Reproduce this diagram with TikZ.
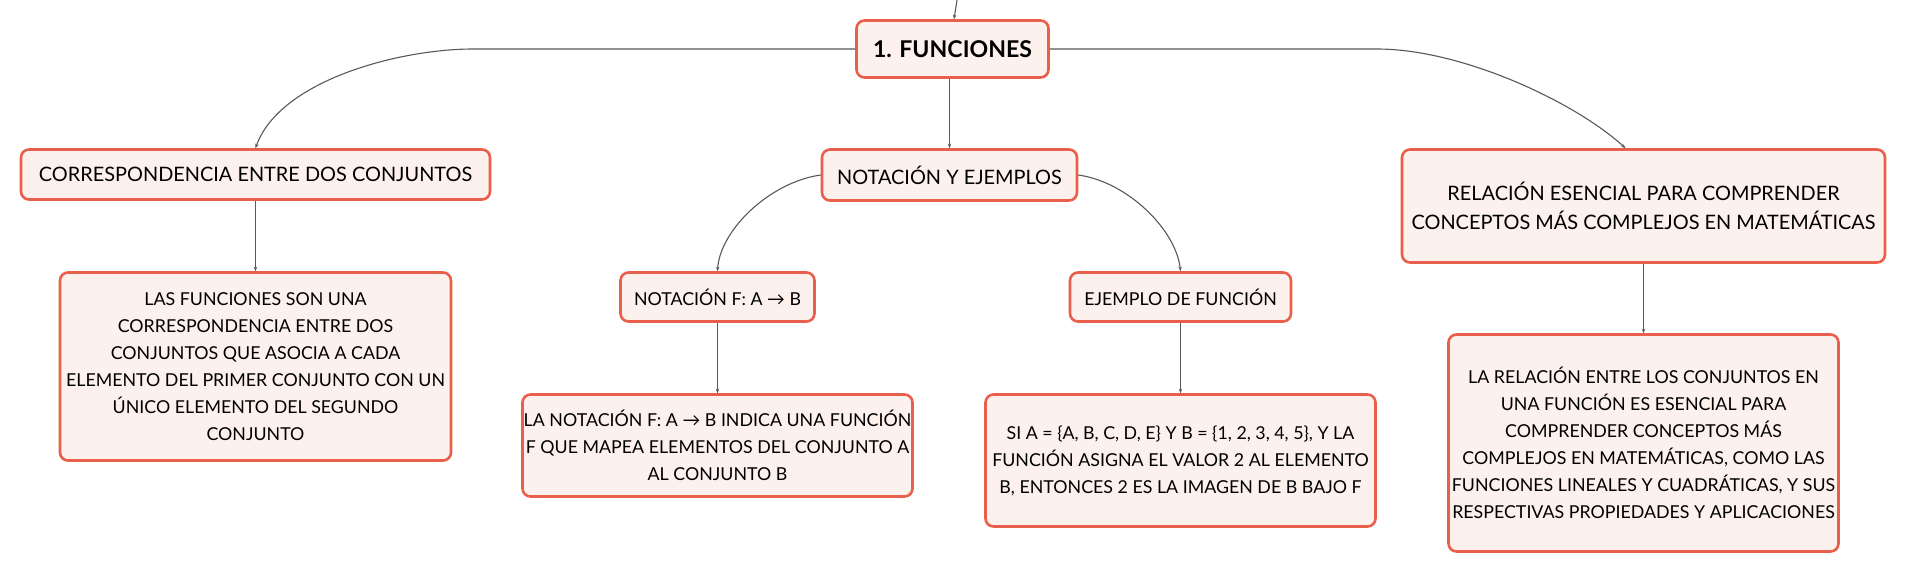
\documentclass[tikz,border=0pt]{standalone}
\usepackage{fontspec}
\setmainfont{Lato}
\usetikzlibrary{arrows.meta}
\definecolor{boxborder}{HTML}{E8604C}
\definecolor{boxfill}{HTML}{FDF1EE}
\definecolor{linkgray}{HTML}{595959}
\begin{document}
\begin{tikzpicture}[x=1pt,y=-1pt,
  mbox/.style={draw=boxborder, fill=boxfill, line width=2.6pt, rounded corners=8pt,
    inner sep=0pt, align=center, text=black,
    font=\fontsize{17.8}{27}\selectfont},
  tbox/.style={mbox, font=\fontsize{19.9}{29.5}\selectfont},
  link/.style={draw=linkgray, line width=1.1pt, -{Stealth[length=4.5pt,width=3.5pt]}}]
\useasboundingbox (0,0) rectangle (1906,574);
\fill[white] (0,0) rectangle (1906,574);

\node[mbox, minimum width=192pt, minimum height=57pt, font=\bfseries\fontsize{23.1}{27}\selectfont] (fun) at (952.5,49) {1. FUNCIONES};

\node[tbox, minimum width=469pt, minimum height=50pt] (corr) at (255.5,174.5) {CORRESPONDENCIA ENTRE DOS CONJUNTOS};
\node[mbox, minimum width=391pt, minimum height=188pt] (corrd) at (255.5,366.5) {LAS FUNCIONES SON UNA\\CORRESPONDENCIA ENTRE DOS\\CONJUNTOS QUE ASOCIA A CADA\\ELEMENTO DEL PRIMER CONJUNTO CON UN\\ÚNICO ELEMENTO DEL SEGUNDO\\CONJUNTO};

\node[tbox, minimum width=255pt, minimum height=51pt] (nye) at (949.5,175) {NOTACIÓN Y EJEMPLOS};
\node[mbox, minimum width=194pt, minimum height=49pt] (nf) at (717.5,297) {NOTACIÓN F: A → B};
\node[mbox, minimum width=390pt, minimum height=102pt] (nfd) at (717.5,445.5) {LA NOTACIÓN F: A → B INDICA UNA FUNCIÓN\\F QUE MAPEA ELEMENTOS DEL CONJUNTO A\\AL CONJUNTO B};
\node[mbox, minimum width=221pt, minimum height=49pt] (ej) at (1180.5,297) {EJEMPLO DE FUNCIÓN};
\node[mbox, minimum width=390pt, minimum height=132pt] (ejd) at (1180.5,460.5) {SI A = \{A, B, C, D, E\} Y B = \{1, 2, 3, 4, 5\}, Y LA\\FUNCIÓN ASIGNA EL VALOR 2 AL ELEMENTO\\B, ENTONCES 2 ES LA IMAGEN DE B BAJO F};

\node[tbox, minimum width=483pt, minimum height=113pt] (rel) at (1643.5,206) {RELACIÓN ESENCIAL PARA COMPRENDER\\CONCEPTOS MÁS COMPLEJOS EN MATEMÁTICAS};
\node[mbox, minimum width=390pt, minimum height=217pt] (reld) at (1643.5,443) {LA RELACIÓN ENTRE LOS CONJUNTOS EN\\UNA FUNCIÓN ES ESENCIAL PARA\\COMPRENDER CONCEPTOS MÁS\\COMPLEJOS EN MATEMÁTICAS, COMO LAS\\FUNCIONES LINEALES Y CUADRÁTICAS, Y SUS\\RESPECTIVAS PROPIEDADES Y APLICACIONES};

\coordinate (top) at (957,0);
\draw[link] (top) -- ([xshift=1.5pt]fun.north);

\draw[link] (fun.west) -- (473,49) .. controls (400,49) and (280,80) .. (corr.north);
\draw[link] (fun.east) -- (1377,49) .. controls (1462,49) and (1575,102) .. ([xshift=-18pt]rel.north);
\draw[link] (nye.north |- fun.south) -- (nye.north);

\draw[link] (corr.south) -- (corrd.north);
\draw[link] (nye.west) .. controls (770,182) and (720,230) .. (nf.north);
\draw[link] (nye.east) .. controls (1128,182) and (1176,230) .. (ej.north);
\draw[link] (nf.south) -- (nfd.north);
\draw[link] (ej.south) -- (ejd.north);
\draw[link] (rel.south) -- (reld.north);
\end{tikzpicture}
\end{document}
